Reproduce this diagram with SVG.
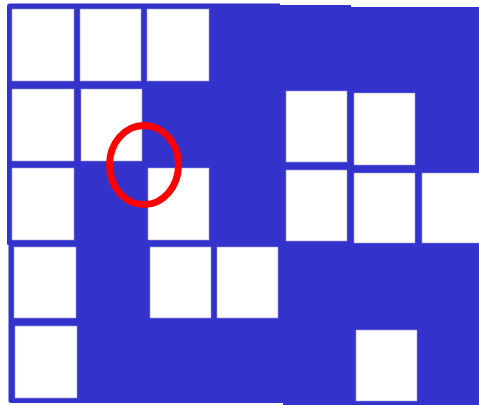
<svg xmlns="http://www.w3.org/2000/svg" width="479" height="405" viewBox="0 0 479 405">
  <style>
    .bg { fill: #3333CC; }
    .cell { fill: #FFFFFF; stroke: #9999E0; stroke-width: 0.6; }
    .mark { fill: none; stroke: #FF0000; stroke-width: 7; }
  </style>
  <rect x="0" y="0" width="479" height="405" fill="#FFFFFF"/>
  <g id="background">
    <path class="bg" d="M 10 3.5 H 280 V 5 H 351 V 7 H 479 V 405 H 283 V 403 H 11 Q 8.5 403 8.5 400.5 V 245.5 H 9.5 Q 7 245.5 7 243 V 6.5 Q 7 3.5 10 3.5 Z"/>
  </g>
  <g id="cells">
    <rect class="cell" x="12" y="9" width="62" height="72"/>
    <rect class="cell" x="80" y="9" width="61" height="72"/>
    <rect class="cell" x="147" y="9" width="62" height="72"/>

    <rect class="cell" x="12" y="89" width="62" height="72"/>
    <rect class="cell" x="81" y="89" width="61" height="72"/>
    <rect class="cell" x="286" y="91" width="61" height="71"/>
    <rect class="cell" x="354" y="93" width="61" height="72"/>

    <rect class="cell" x="12" y="168" width="62" height="72"/>
    <rect class="cell" x="148" y="168" width="61" height="72"/>
    <rect class="cell" x="286" y="170" width="61" height="71"/>
    <rect class="cell" x="354" y="173" width="61" height="70"/>
    <rect class="cell" x="422" y="173" width="58" height="70"/>

    <rect class="cell" x="14" y="247" width="62" height="71"/>
    <rect class="cell" x="150" y="247" width="61" height="71"/>
    <rect class="cell" x="217" y="247" width="61" height="71"/>

    <rect class="cell" x="15" y="326" width="62" height="72"/>
    <rect class="cell" x="356" y="330" width="61" height="71"/>
  </g>
  <g id="highlight">
    <ellipse class="mark" cx="144" cy="165" rx="34.5" ry="39.5"/>
  </g>
</svg>
